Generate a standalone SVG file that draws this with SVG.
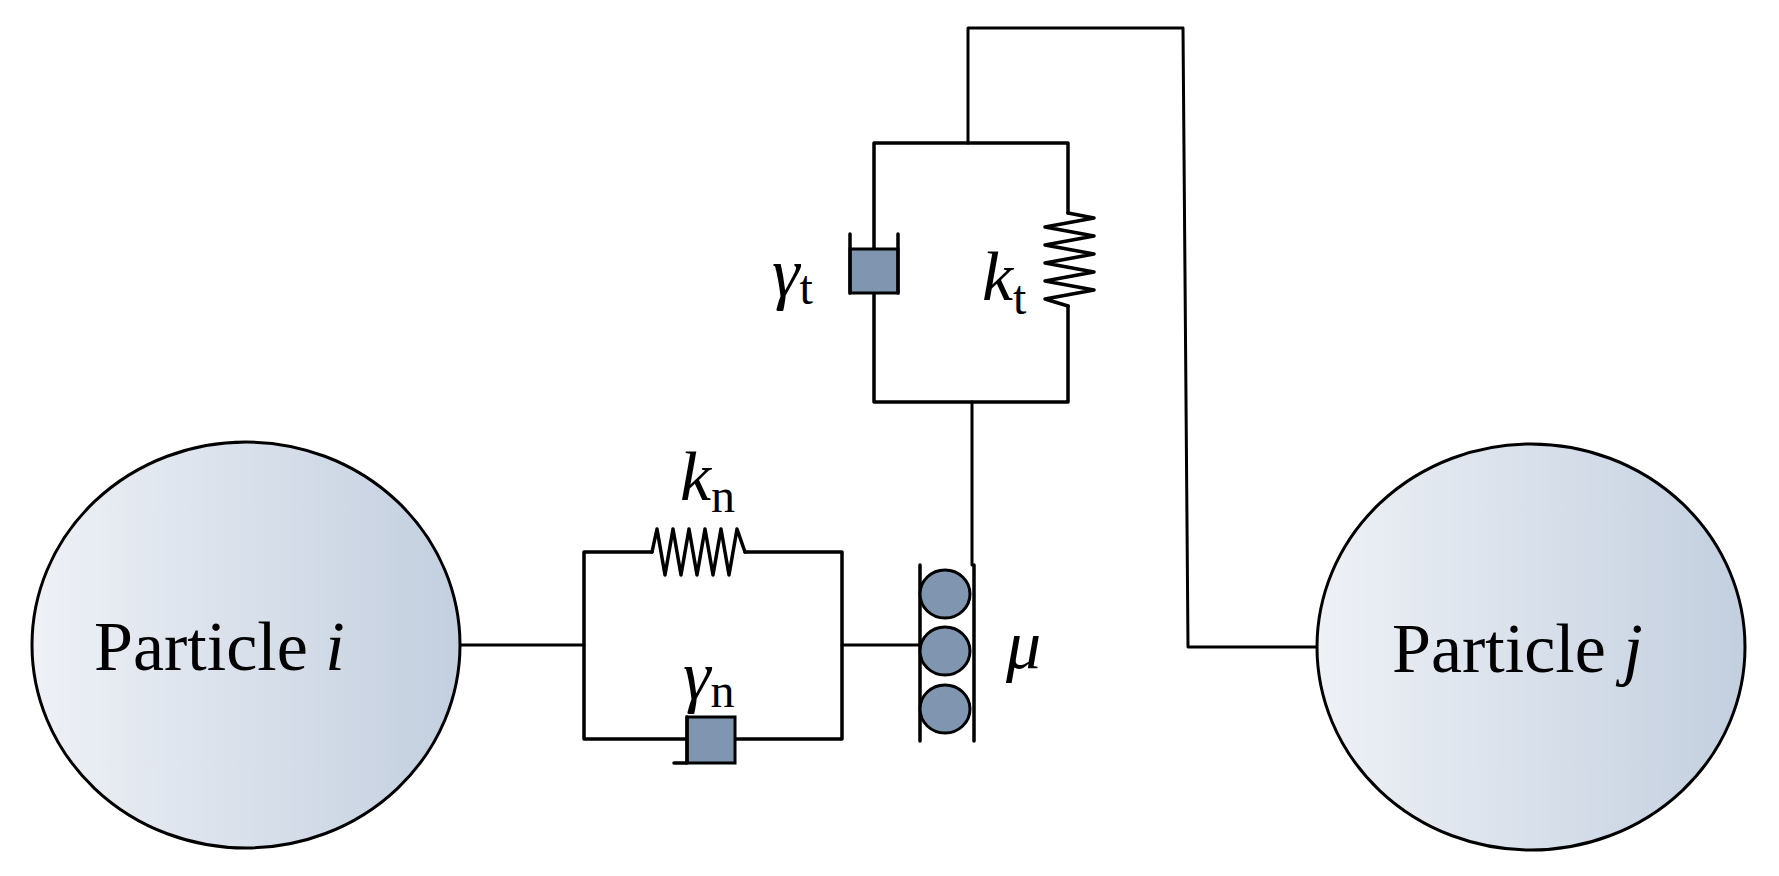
<svg xmlns="http://www.w3.org/2000/svg" width="1779" height="876" viewBox="0 0 1779 876">
<defs>
<linearGradient id="pg" x1="0" y1="0" x2="1" y2="0"><stop offset="0" stop-color="#eef1f6"/><stop offset="1" stop-color="#c3cfdf"/></linearGradient>
<style>
.l{fill:none;stroke:#000;stroke-width:3.5;stroke-linejoin:round;stroke-linecap:round}
.t{stroke-width:3}
.f{fill:#8096b0;stroke:#000;stroke-width:3}
.p{fill:url(#pg);stroke:#000;stroke-width:3}
.tx{font-family:"Liberation Serif",serif;font-size:70px;fill:#000}
.it{font-style:italic}
.sub{font-size:48px;font-style:normal}
</style>
</defs>
<rect width="1779" height="876" fill="#fff"/>
<g id="connectors">
<path class="l t" d="M460 645 H584"/>
<path class="l" d="M584 552 H652 M745 552 H842 V739 H735 M687 739 H584 V552"/>
<path class="l t" d="M842 645 H920"/>
<path class="l t" d="M972 565 V402"/>
<path class="l" d="M874 143 H1068 V213 M1068 306 V402 H874 V293 M874 249 V143"/>
<path class="l t" d="M968 143 V28 H1183 L1188 647 H1316"/>
</g>
<g id="particle-i"><ellipse class="p" cx="246" cy="645" rx="214" ry="203"/><text class="tx" x="94" y="670">Particle <tspan class="it">i</tspan></text></g>
<g id="particle-j"><ellipse class="p" cx="1531" cy="647" rx="214" ry="203"/><text class="tx" x="1392" y="672">Particle <tspan class="it">j</tspan></text></g>
<g id="spring-n"><path class="l" d="M652 552 L657 529 L665 575 L673 529 L681 575 L689 529 L697 575 L705 529 L713 575 L721 529 L729 575 L737 529 L745 552"/><text class="tx it" x="680" y="500" font-size="60">k<tspan class="sub" dy="12">n</tspan></text></g>
<g id="damper-n"><rect class="f" x="687" y="717" width="48" height="46"/><path class="l" d="M687 717 V763 H674"/><text class="tx it" x="683" y="699" font-size="60">γ<tspan class="sub" dy="8">n</tspan></text></g>
<g id="slider"><path class="l" d="M920 565 V741 M974 565 V741"/><ellipse class="f" cx="945" cy="594" rx="25" ry="24"/><ellipse class="f" cx="945" cy="651" rx="25" ry="24"/><ellipse class="f" cx="945" cy="709" rx="25" ry="24"/><text class="tx it" x="1006" y="668" font-size="60">μ</text></g>
<g id="damper-t"><rect class="f" x="850" y="249" width="48" height="44"/><path class="l" d="M850 234 V293 M898 234 V293"/><text class="tx it" x="772" y="296" font-size="60">γ<tspan class="sub" dy="8">t</tspan></text></g>
<g id="spring-t"><path class="l" d="M1068 213 L1094 218 L1045 227 L1094 236 L1045 245 L1094 254 L1045 263 L1094 272 L1045 281 L1094 290 L1045 299 L1068 306"/><text class="tx it" x="982" y="300" font-size="60">k<tspan class="sub" dy="14">t</tspan></text></g>
</svg>
